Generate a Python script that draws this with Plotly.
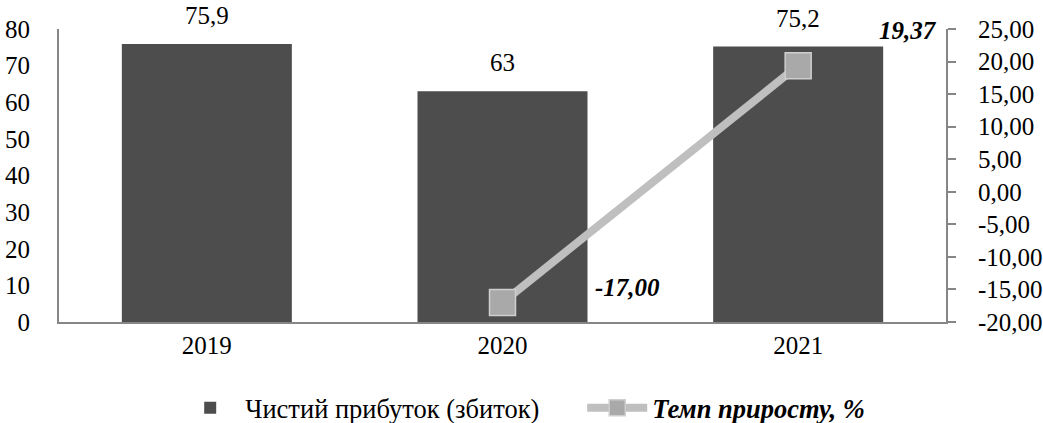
import plotly.graph_objects as go

years = ["2019", "2020", "2021"]
profit = [75.9, 63, 75.2]
profit_labels = ["75,9", "63", "75,2"]
growth_years = ["2020", "2021"]
growth = [-17.00, 19.37]
growth_labels = ["-17,00", "19,37"]
left_ticks = [0, 10, 20, 30, 40, 50, 60, 70, 80]
right_ticks = [-20, -15, -10, -5, 0, 5, 10, 15, 20, 25]
right_tick_labels = ["-20,00", "-15,00", "-10,00", "-5,00", "0,00",
                     "5,00", "10,00", "15,00", "20,00", "25,00"]

FONT = "Liberation Serif, Times New Roman, serif"
AX = "#868686"
FS = 25

fig = go.Figure()
fig.add_trace(go.Bar(
    x=years, y=profit, name="Чистий прибуток (збиток)",
    marker=dict(color="#4d4d4d", line=dict(width=0)),
))
fig.add_trace(go.Scatter(
    x=growth_years, y=growth, yaxis="y2", mode="lines+markers",
    name="<b><i>Темп приросту, %</i></b>",
    line=dict(color="#bfbfbf", width=8),
    marker=dict(symbol="square", size=26, color="#a9a9a9",
                line=dict(color="#cfcfcf", width=1.5)),
    cliponaxis=False,
))

for xv, yv, lab in zip(years, profit, profit_labels):
    fig.add_annotation(x=years.index(xv), y=yv, xref="x", yref="y", text=lab,
                       showarrow=False, yanchor="bottom", yshift=13,
                       font=dict(family=FONT, size=FS, color="#000"))

for xv, yv, lab, dx, dy in zip(growth_years, growth, growth_labels, [125, 110], [15, 35]):
    fig.add_annotation(x=years.index(xv), y=yv, xref="x", yref="y2",
                       text="<b><i>" + lab + "</i></b>",
                       showarrow=False, xshift=dx, yshift=dy,
                       font=dict(family=FONT, size=FS, color="#000"))

fig.update_layout(
    width=1043, height=423,
    margin=dict(l=59, r=97, t=29, b=101, autoexpand=False),
    paper_bgcolor="white", plot_bgcolor="white",
    font=dict(family=FONT, size=FS, color="#000"),
    showlegend=True,
    legend=dict(orientation="h", x=0.131, xanchor="left", y=-0.212, yanchor="top",
                entrywidth=332, entrywidthmode="pixels",
                font=dict(family=FONT, size=26.5), itemwidth=60, bgcolor="rgba(0,0,0,0)"),
    bargap=0.425,
    xaxis=dict(type="category", categoryorder="array", categoryarray=years,
               range=[-0.5, 2.5], showline=True, linecolor=AX, linewidth=2, showgrid=False,
               ticks="", tickfont=dict(size=FS)),
    yaxis=dict(range=[0, 80], tickvals=left_ticks, showline=True, linecolor=AX, linewidth=2,
               showgrid=False, zeroline=False, ticks="", ticklabelstandoff=22,
               tickfont=dict(size=FS)),
    yaxis2=dict(range=[-20, 25], tickvals=right_ticks, ticktext=right_tick_labels,
                overlaying="y", side="right", showline=True, linecolor=AX, linewidth=2,
                showgrid=False, zeroline=False, ticks="outside", ticklen=8, tickcolor=AX,
                tickwidth=1.5, ticklabelstandoff=17, tickfont=dict(size=FS)),
)

fig.write_html("out.html")
